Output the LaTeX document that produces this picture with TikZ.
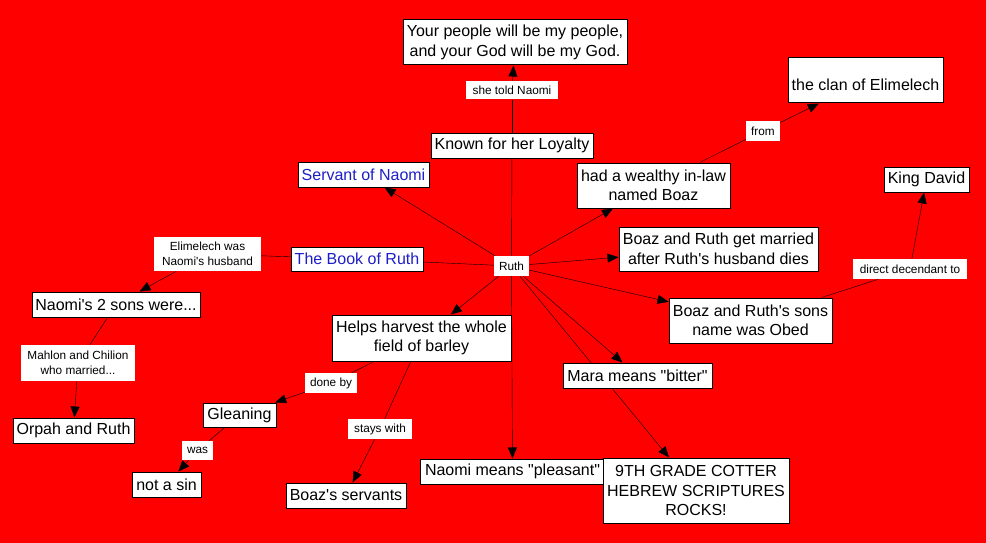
\documentclass[tikz,border=0pt]{standalone}
\usepackage{fontspec}
\setmainfont{Liberation Sans}[Ligatures=TeXOff]
\usetikzlibrary{arrows.meta,backgrounds}
\definecolor{cmapred}{RGB}{255,0,0}
\definecolor{cmapblue}{RGB}{30,30,200}
\begin{document}
\begin{tikzpicture}[x=1pt, y=-1pt,
	concept/.style={draw, fill=white, line width=1pt, inner sep=0pt, align=center,
		font=\fontsize{16}{19.5}\selectfont},
	link/.style={fill=white, inner sep=0pt, align=center,
		font=\fontsize{11.8}{15}\selectfont},
	sz/.style 2 args={minimum width=#1, minimum height=#2},
	>={Triangle[length=11pt, width=9pt]}]
	\useasboundingbox (0, 0) rectangle (986, 543);

	% Centre
	\node[link, sz={35}{20}] (ruth) at (511.5, 266) {Ruth};
	\node[concept, sz={132}{24}, text=cmapblue] (book) at (357, 259) {The Book of Ruth};
	\node[concept, sz={131}{25}, text=cmapblue] (servant) at (363.5, 174.5) {Servant of Naomi};

	% Top
	\node[concept, sz={162}{25}] (loyal) at (512, 145.5) {Known for her Loyalty};
	\node[link, sz={92}{18}] (told) at (512, 90.5) {she told Naomi};
	\node[concept, sz={224}{45}] (people) at (515, 42.5) {Your people will be my people,\\and your God will be my God.};

	% Right
	\node[concept, sz={153}{45}] (wealthy) at (653.5, 185.5) {had a wealthy in-law\\named Boaz};
	\node[link, sz={34}{20}] (from) at (763, 131) {from};
	\node[concept, sz={155}{45}] (clan) at (865.5, 80.5) {~\\the clan of Elimelech};
	\node[concept, sz={199}{44}] (married) at (718.5, 249) {Boaz and Ruth get married\\after Ruth's husband dies};
	\node[concept, sz={163}{45}] (obed) at (750.5, 320.5) {Boaz and Ruth's sons\\name was Obed};
	\node[link, sz={114}{20}] (direct) at (910, 269) {direct decendant to};
	\node[concept, sz={85}{25}] (david) at (926.5, 179.5) {King David};

	% Left
	\node[link, sz={107}{34}] (elim) at (207.5, 254) {Elimelech was\\Naomi's husband};
	\node[concept, sz={168}{25}] (sons) at (116, 304.5) {Naomi's 2 sons were...};
	\node[link, sz={114}{36}] (mahlon) at (78, 363) {Mahlon and Chilion\\who married...};
	\node[concept, sz={121}{25}] (orpah) at (73.5, 430.5) {Orpah and Ruth};

	% Bottom
	\node[concept, sz={179}{46}] (helps) at (421.5, 338) {Helps harvest the whole\\field of barley};
	\node[link, sz={52}{20}] (doneby) at (331, 383) {done by};
	\node[concept, sz={73}{24}] (glean) at (239.5, 415) {Gleaning};
	\node[link, sz={31}{19}] (was) at (197.5, 450.5) {was};
	\node[concept, sz={69}{25}] (sin) at (166.5, 484.5) {not a sin};
	\node[link, sz={64}{20}] (stays) at (380, 429) {stays with};
	\node[concept, sz={120}{25}] (servants) at (346, 495.5) {Boaz's servants};
	\node[concept, sz={185}{25}] (pleasant) at (512.5, 471.5) {Naomi means "pleasant"};
	\node[concept, sz={149}{25}] (mara) at (637.5, 375.5) {Mara means "bitter"};
	\node[concept, sz={186}{65}] (grade) at (696, 490.5) {9TH GRADE COTTER\\HEBREW SCRIPTURES\\ROCKS!};

	\begin{scope}[on background layer, line width=0.8pt]
		\fill[cmapred] (0, 0) rectangle (986, 543);

		\draw (loyal) -- (ruth);
		\draw (loyal) -- (told);
		\draw[->] (told) -- (people);
		\draw (book) -- (ruth);
		\draw[->] (ruth) -- (servant);

		\draw[->] (ruth) -- (wealthy);
		\draw (wealthy) -- (from);
		\draw[->] (from) -- (clan);
		\draw[->] (ruth) -- (married);
		\draw[->] (ruth) -- (obed);
		\draw (obed) -- (direct);
		\draw[->] (direct) -- (david);

		\draw (book) -- (elim);
		\draw[->] (elim) -- (sons);
		\draw (sons) -- (mahlon);
		\draw[->] (mahlon) -- (orpah);

		\draw[->] (ruth) -- (helps);
		\draw (helps) -- (doneby);
		\draw[->] (doneby) -- (glean);
		\draw (glean) -- (was);
		\draw[->] (was) -- (sin);
		\draw (helps) -- (stays);
		\draw[->] (stays) -- (servants);
		\draw[->] (ruth) -- (pleasant);
		\draw[->] (ruth) -- (mara);
		\draw[->] (ruth) -- (grade);
	\end{scope}
\end{tikzpicture}
\end{document}
